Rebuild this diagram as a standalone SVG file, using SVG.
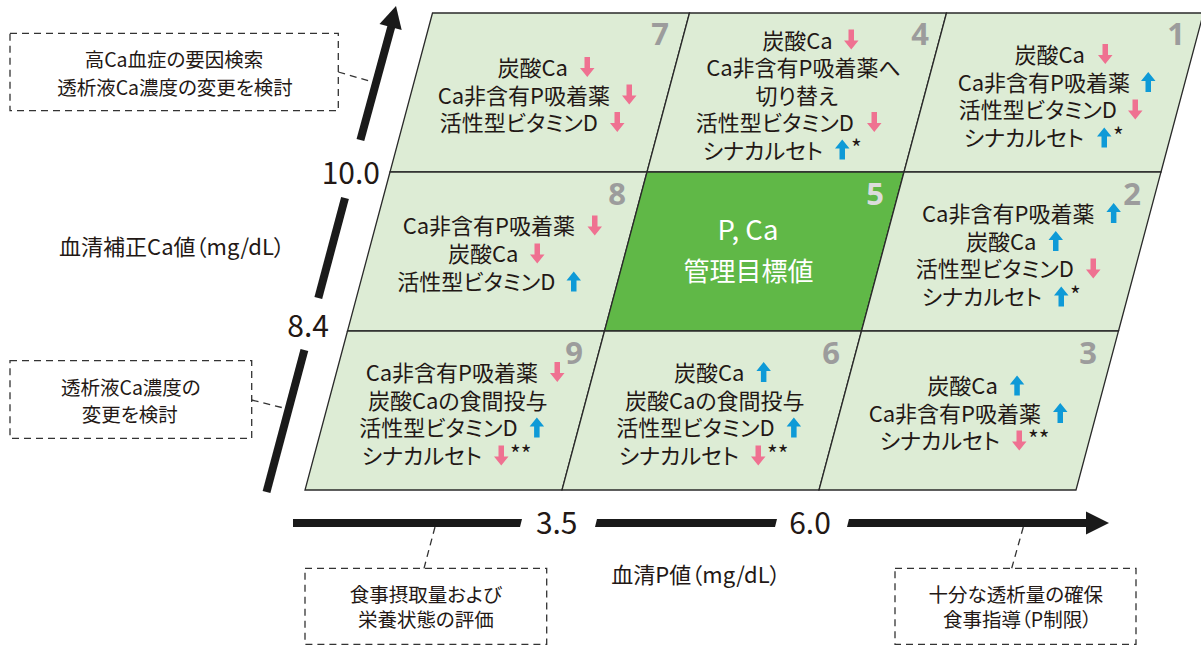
<svg xmlns="http://www.w3.org/2000/svg" xmlns:xlink="http://www.w3.org/1999/xlink" width="1201" height="646" viewBox="0 0 1201 646">
<style>
text{font-family:"Noto Sans CJK JP","Noto Sans",sans-serif;fill:#231815;font-feature-settings:"palt";}
.t{font-size:22px;}
.e{text-anchor:end;}
.m{text-anchor:middle;}
.num{font-family:"Noto Sans","Liberation Sans",sans-serif;font-size:31px;font-weight:bold;fill:#9c9c9c;text-anchor:end;}
.cell{fill:#ddecd5;stroke:#2a2a2a;stroke-width:1.3;}
.ax{font-size:30px;}
.lab{font-size:22px;}
.note{font-size:19.5px;text-anchor:middle;}
.dash{fill:none;stroke:#333;stroke-width:1.3;stroke-dasharray:7 5;}
.ast{font-size:23px;}
</style>
<defs>
<path id="dn" d="M4.5,0H10V11H14.5L7.25,20L0,11H4.5Z" fill="#ef7191"/>
<path id="up" d="M7.25,0L14.5,9H10V20H4.5V9H0Z" fill="#0e9ad7"/>
</defs>
<rect width="1201" height="646" fill="#fff"/>

<g id="cell-7">
<polygon class="cell" points="432.5,13 689.5,13 647,172 390,172"/>
<text class="num" x="669" y="45">7</text>
<text class="t e" x="568" y="76">炭酸Ca</text><use xlink:href="#dn" x="580" y="57"/>
<text class="t e" x="610" y="103.5">Ca非含有P吸着薬</text><use xlink:href="#dn" x="622" y="84.5"/>
<text class="t e" x="598" y="131">活性型ビタミンD</text><use xlink:href="#dn" x="610" y="112"/>
</g>

<g id="cell-4">
<polygon class="cell" points="689.5,13 946.5,13 904,172 647,172"/>
<text class="num" x="929" y="45">4</text>
<text class="t e" x="832.7" y="48.5">炭酸Ca</text><use xlink:href="#dn" x="844" y="29.5"/>
<text class="t m" x="803.5" y="76">Ca非含有P吸着薬へ</text>
<text class="t m" x="796.7" y="103.5">切り替え</text>
<text class="t e" x="854" y="131">活性型ビタミンD</text><use xlink:href="#dn" x="867" y="112"/>
<text class="t e" x="823" y="158.5">シナカルセト</text><use xlink:href="#up" x="835" y="139.5"/><text class="ast" x="851" y="157">*</text>
</g>

<g id="cell-1">
<polygon class="cell" points="946.5,13 1203.5,13 1161,172 904,172"/>
<text class="num" x="1185" y="45">1</text>
<text class="t e" x="1085" y="62.7">炭酸Ca</text><use xlink:href="#dn" x="1098" y="44"/>
<text class="t e" x="1130" y="90.5">Ca非含有P吸着薬</text><use xlink:href="#up" x="1141" y="72"/>
<text class="t e" x="1117" y="118">活性型ビタミンD</text><use xlink:href="#dn" x="1128" y="99.5"/>
<text class="t e" x="1084" y="146">シナカルセト</text><use xlink:href="#up" x="1097" y="127.5"/><text class="ast" x="1113" y="144.5">*</text>
</g>

<g id="cell-8">
<polygon class="cell" points="390,172 647,172 604.5,331 347.5,331"/>
<text class="num" x="626" y="205">8</text>
<text class="t e" x="575" y="234">Ca非含有P吸着薬</text><use xlink:href="#dn" x="587.5" y="215.5"/>
<text class="t e" x="518.5" y="262">炭酸Ca</text><use xlink:href="#dn" x="530" y="243.5"/>
<text class="t e" x="555.5" y="290">活性型ビタミンD</text><use xlink:href="#up" x="566.5" y="271.5"/>
</g>

<g id="cell-5">
<polygon class="cell" style="fill:#60b847" points="647,172 904,172 861.5,331 604.5,331"/>
<text class="num" x="884" y="205" style="fill:#dcdcdc">5</text>
<text class="m" x="748" y="240" style="font-size:27.5px;fill:#fff">P, Ca</text>
<text class="m" x="748.5" y="281" style="font-size:26px;fill:#fff">管理目標値</text>
</g>

<g id="cell-2">
<polygon class="cell" points="904,172 1161,172 1118.5,331 861.5,331"/>
<text class="num" x="1141" y="205">2</text>
<text class="t e" x="1094.4" y="221.7">Ca非含有P吸着薬</text><use xlink:href="#up" x="1106.4" y="203"/>
<text class="t e" x="1036.5" y="249.5">炭酸Ca</text><use xlink:href="#up" x="1048.5" y="231"/>
<text class="t e" x="1074" y="277">活性型ビタミンD</text><use xlink:href="#dn" x="1086" y="258.5"/>
<text class="t e" x="1042" y="305">シナカルセト</text><use xlink:href="#up" x="1054" y="286.5"/><text class="ast" x="1070" y="303.5">*</text>
</g>

<g id="cell-9">
<polygon class="cell" points="347.5,331 604.5,331 562,490 305,490"/>
<text class="num" x="583" y="364">9</text>
<text class="t e" x="538" y="380.7">Ca非含有P吸着薬</text><use xlink:href="#dn" x="550" y="362"/>
<text class="t m" x="457.7" y="408.5">炭酸Caの食間投与</text>
<text class="t e" x="517.6" y="436">活性型ビタミンD</text><use xlink:href="#up" x="529.6" y="417.5"/>
<text class="t e" x="482" y="464">シナカルセト</text><use xlink:href="#dn" x="494" y="445.5"/><text class="ast" x="510" y="462.5">**</text>
</g>

<g id="cell-6">
<polygon class="cell" points="604.5,331 861.5,331 819,490 562,490"/>
<text class="num" x="840" y="364">6</text>
<text class="t e" x="744.4" y="380.7">炭酸Ca</text><use xlink:href="#up" x="756.4" y="362"/>
<text class="t m" x="714.7" y="408.5">炭酸Caの食間投与</text>
<text class="t e" x="774.6" y="436">活性型ビタミンD</text><use xlink:href="#up" x="786.6" y="417.5"/>
<text class="t e" x="739" y="464">シナカルセト</text><use xlink:href="#dn" x="751" y="445.5"/><text class="ast" x="767" y="462.5">**</text>
</g>

<g id="cell-3">
<polygon class="cell" points="861.5,331 1118.5,331 1076,490 819,490"/>
<text class="num" x="1097" y="364">3</text>
<text class="t e" x="997.8" y="394">炭酸Ca</text><use xlink:href="#up" x="1009.8" y="375.5"/>
<text class="t e" x="1041" y="421.5">Ca非含有P吸着薬</text><use xlink:href="#up" x="1053" y="403"/>
<text class="t e" x="1000" y="449">シナカルセト</text><use xlink:href="#dn" x="1012" y="430.5"/><text class="ast" x="1028" y="447.5">**</text>
</g>

<g id="axes">
<g stroke="#1a1a1a" stroke-width="8" fill="none">
<line x1="266.5" y1="492" x2="304.4" y2="350"/>
<line x1="318.3" y1="298" x2="345" y2="198"/>
<line x1="360.4" y1="140" x2="391.5" y2="26"/>
</g>
<polygon points="396,6 401.7,30 379.5,24" fill="#1a1a1a"/>
<polygon points="293,519 522,519 520,527 293,527" fill="#1a1a1a"/>
<polygon points="597,519 777,519 775,527 595,527" fill="#1a1a1a"/>
<polygon points="849,519 1088,519 1088,527 847,527" fill="#1a1a1a"/>
<polygon points="1086,511.5 1109,523 1086,534.5" fill="#1a1a1a"/>
<text class="ax e" x="380" y="183.5">10.0</text>
<text class="ax e" x="329" y="337">8.4</text>
<text class="ax m" x="556.7" y="533.5">3.5</text>
<text class="ax m" x="810" y="533.5">6.0</text>
<text class="lab m" x="172" y="255">血清補正Ca値（mg/dL）</text>
<text class="lab m" x="696" y="583">血清P値（mg/dL）</text>
</g>

<g id="notes">
<g id="note-1">
<rect class="dash" x="10" y="33.3" width="328.3" height="77.4"/>
<line class="dash" x1="338.3" y1="72" x2="373" y2="82"/>
<text class="note" x="174" y="66.7">高Ca血症の要因検索</text>
<text class="note" x="175" y="95">透析液Ca濃度の変更を検討</text>
</g>
<g id="note-2">
<rect class="dash" x="10" y="360.7" width="241.7" height="77.6"/>
<line class="dash" x1="251.7" y1="400" x2="285" y2="408.3"/>
<text class="note" x="130.8" y="395">透析液Ca濃度の</text>
<text class="note" x="129.7" y="421.7">変更を検討</text>
</g>
<g id="note-3">
<rect class="dash" x="305" y="568.3" width="241.7" height="76"/>
<line class="dash" x1="435" y1="527" x2="424" y2="568.3"/>
<text class="note" x="425.8" y="601.7">食事摂取量および</text>
<text class="note" x="425.8" y="626.7">栄養状態の評価</text>
</g>
<g id="note-4">
<rect class="dash" x="895" y="568.3" width="241" height="76"/>
<line class="dash" x1="1023.3" y1="527" x2="1011.7" y2="568.3"/>
<text class="note" x="1015.8" y="601.7">十分な透析量の確保</text>
<text class="note" x="1017.5" y="626.7">食事指導（P制限）</text>
</g>
</g>
</svg>
